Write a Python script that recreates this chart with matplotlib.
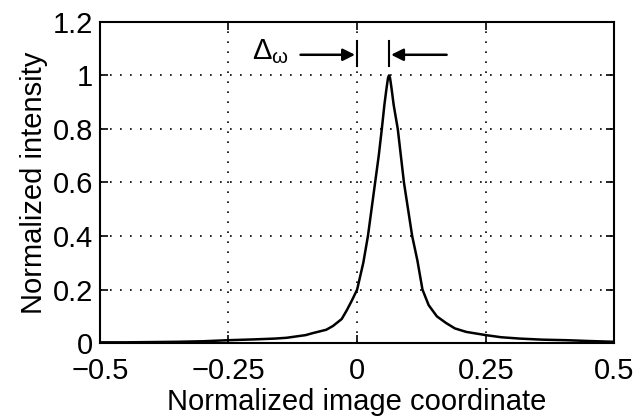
import matplotlib
matplotlib.use('Agg')
import matplotlib.pyplot as plt
import numpy as np

# curve
x_coord = [-0.5, -0.45, -0.4, -0.35, -0.3, -0.25, -0.2, -0.16, -0.137, -0.1, -0.087,
           -0.06, -0.047, -0.03, -0.02, -0.01, 0.0, 0.006, 0.012, 0.021, 0.028, 0.035,
           0.042, 0.048, 0.053, 0.057, 0.06, 0.062, 0.064, 0.067, 0.071, 0.079, 0.085,
           0.091, 0.099, 0.107, 0.117, 0.127, 0.139, 0.155, 0.173, 0.19, 0.212, 0.25,
           0.28, 0.316, 0.36, 0.406, 0.45, 0.5]
intensity = [0.003, 0.003, 0.004, 0.005, 0.007, 0.011, 0.014, 0.017, 0.02, 0.03, 0.037,
             0.05, 0.064, 0.09, 0.123, 0.16, 0.2, 0.25, 0.3, 0.4, 0.5, 0.6,
             0.7, 0.8, 0.89, 0.95, 0.99, 1.0, 0.99, 0.95, 0.89, 0.8, 0.7,
             0.6, 0.5, 0.4, 0.31, 0.2, 0.142, 0.1, 0.075, 0.055, 0.042, 0.03,
             0.022, 0.017, 0.013, 0.011, 0.008, 0.005]

xticks = [-0.5, -0.25, 0, 0.25, 0.5]
xtick_labels = ['\u22120.5', '\u22120.25', '0', '0.25', '0.5']
yticks = [0, 0.2, 0.4, 0.6, 0.8, 1, 1.2]
ytick_labels = ['0', '0.2', '0.4', '0.6', '0.8', '1', '1.2']

plt.rcParams['font.family'] = ['Liberation Sans', 'DejaVu Sans']
plt.rcParams['mathtext.fontset'] = 'custom'
plt.rcParams['mathtext.rm'] = 'Liberation Sans'
plt.rcParams['mathtext.it'] = 'Liberation Sans'

fig = plt.figure(figsize=(6.4, 4.2), dpi=100)
ax = fig.add_axes([0.156, 0.183, 0.804, 0.765])

ax.plot(x_coord, intensity, color='black', lw=1.8)

ax.set_xlim(-0.5, 0.5)
ax.set_ylim(0, 1.2)
ax.set_xticks(xticks)
ax.set_xticklabels(xtick_labels)
ax.set_yticks(yticks)
ax.set_yticklabels(ytick_labels)
ax.tick_params(direction='in', top=True, right=True, length=6, width=1.2,
               labelsize=21)
ax.tick_params(axis='x', pad=10)
ax.tick_params(axis='y', pad=5)
ax.grid(True, linestyle=(0, (1, 5)), color='black', lw=1.2)
for s in ax.spines.values():
    s.set_linewidth(1.5)

ax.set_xlabel('Normalized image coordinate', fontsize=21, labelpad=2)
ax.set_ylabel('Normalized intensity', fontsize=21, labelpad=3)

# width marker: bar at zero and bar at the peak, arrows pointing in
peak_x = x_coord[int(np.argmax(intensity))]
bar_lo, bar_hi, arr_y = 1.035, 1.13, 1.077
ax.plot([0, 0], [bar_lo, bar_hi], color='black', lw=1.5, clip_on=False)
ax.plot([peak_x, peak_x], [bar_lo, bar_hi], color='black', lw=1.5, clip_on=False)
ax.annotate('', xy=(-0.004, arr_y), xytext=(-0.11, arr_y),
            arrowprops=dict(arrowstyle='-|>', color='black', lw=1.8,
                            mutation_scale=18, shrinkA=0, shrinkB=0))
ax.annotate('', xy=(peak_x + 0.004, arr_y), xytext=(0.174, arr_y),
            arrowprops=dict(arrowstyle='-|>', color='black', lw=1.8,
                            mutation_scale=18, shrinkA=0, shrinkB=0))
ax.text(-0.205, 1.09, r'$\mathrm{\Delta}_{\mathrm{\omega}}$', fontsize=21,
        ha='left', va='center')

fig.savefig('out.png', dpi=100)
